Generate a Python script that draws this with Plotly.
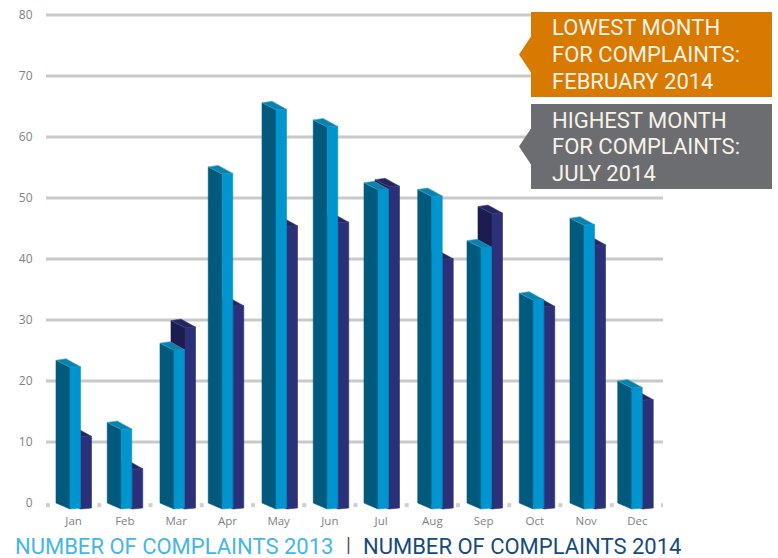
import plotly.graph_objects as go

months = ["Jan", "Feb", "Mar", "Apr", "May", "Jun", "Jul", "Aug", "Sep", "Oct", "Nov", "Dec"]
complaints_2013 = [23.4, 13.2, 26.2, 55.1, 65.6, 62.8, 52.5, 51.4, 43.0, 34.4, 46.7, 20.0]
complaints_2014 = [12.0, 6.7, 29.9, 33.4, 46.5, 47.1, 53.0, 41.1, 48.6, 33.3, 43.4, 18.0]
y_ticks = [0, 10, 20, 30, 40, 50, 60, 70, 80]

W, H = 778, 558
L, R, T, B = 46, 663, 10, 512
Y0_PX = 503
PX_PER_UNIT = 6.1
CAT_PX = 51.25
FIRST_BOUND_PX = 48

# layout: pixel nudge of each month's bar group from its category boundary
group_nudge_px = [8, 8, 9.5, 6.5, 9, 9, 8.5, 11, 9, 10, 9.5, 6]

x_range = [(L - FIRST_BOUND_PX) / CAT_PX, (R - FIRST_BOUND_PX) / CAT_PX]
y_range = [(Y0_PX - B) / PX_PER_UNIT, (Y0_PX - T) / PX_PER_UNIT]


def dx(px):
    return px / CAT_PX


def dy(px):
    return px / PX_PER_UNIT


def faces(values, shift_px):
    side_x, side_y, top_x, top_y, front_x, front_y = [], [], [], [], [], []
    for i, v in enumerate(values):
        x0 = i + dx(group_nudge_px[i] + shift_px)
        a, b, c = x0 + dx(14), x0 + dx(24.5), x0 + dx(10)
        side_x += [x0, a, a, x0, x0, None]
        side_y += [0, -dy(6), v - dy(7), v, 0, None]
        top_x += [x0, c, b, a, x0, None]
        top_y += [v, v + dy(1.5), v - dy(6.5), v - dy(7), v, None]
        front_x += [a, b, b, a, a, None]
        front_y += [-dy(6), -dy(5), v - dy(6.5), v - dy(7), -dy(6), None]
    return (side_x, side_y), (top_x, top_y), (front_x, front_y)


fig = go.Figure()


def add_poly(pts, color, edge=None, name=""):
    fig.add_trace(go.Scatter(
        x=pts[0], y=pts[1], mode="lines", fill="toself", fillcolor=color,
        line=dict(color=edge or color, width=0.6), hoverinfo="skip",
        showlegend=False, name=name,
    ))


s, t, f = faces(complaints_2014, 11)
add_poly(s, "#1b1c50", name="2014 side")
add_poly(t, "#23265f", "#4a4f8c", name="2014 top")
add_poly(f, "#2b3179", name="2014 front")
s, t, f = faces(complaints_2013, 0)
add_poly(s, "#005a7d", name="2013 side")
add_poly(t, "#0a82ad", "#3aa5c8", name="2013 top")
add_poly(f, "#0095cf", name="2013 front")

# small separators along the baseline
fig.add_trace(go.Scatter(
    x=list(range(len(months) + 1)), y=[-0.35] * (len(months) + 1), mode="markers",
    marker=dict(symbol="square", size=4, color="#cfcfcf"),
    hoverinfo="skip", showlegend=False,
))


def px_x(p):
    return (p - L) / (R - L)


def px_y(p):
    return (B - p) / (B - T)


shapes = [
    dict(type="line", xref="paper", yref="y", x0=0, x1=1, y0=v, y1=v,
         line=dict(color="#c9c9c9", width=3), layer="below")
    for v in y_ticks if v != 0
]


def callout(top, bottom, color):
    mid = (top + bottom) / 2
    pts = [(531, top), (772, top), (772, bottom), (531, bottom),
           (531, mid + 18), (519, mid), (531, mid - 18)]
    path = "M " + " L ".join(f"{px_x(a):.5f},{px_y(b):.5f}" for a, b in pts) + " Z"
    return dict(type="path", xref="paper", yref="paper", path=path,
                fillcolor=color, line=dict(width=0), layer="above")


shapes += [callout(12, 97, "#d97a00"), callout(104, 189, "#6c6d70")]

low_lines = ["LOWEST MONTH", "FOR COMPLAINTS:", "FEBRUARY 2014"]
high_lines = ["HIGHEST MONTH", "FOR COMPLAINTS:", "JULY 2014"]
annotations = []
for lines, y_start in ((low_lines, 28), (high_lines, 120)):
    for j, line in enumerate(lines):
        annotations.append(dict(
            text=line, xref="paper", yref="paper", x=px_x(551), y=px_y(y_start + j * 26.7),
            xanchor="left", yanchor="middle", showarrow=False, borderpad=0,
            font=dict(family="Roboto", size=22, color="#f7f2ea"),
        ))

legend_font = "Roboto"
annotations += [
    dict(text="NUMBER OF COMPLAINTS 2013", xref="paper", yref="paper", x=px_x(13), y=px_y(546),
         xanchor="left", yanchor="middle", showarrow=False,
         font=dict(family=legend_font, size=22, color="#45b6e8")),
    dict(text="|", xref="paper", yref="paper", x=px_x(348), y=px_y(545),
         xanchor="center", yanchor="middle", showarrow=False,
         font=dict(family=legend_font, size=20, color="#555555")),
    dict(text="NUMBER OF COMPLAINTS 2014", xref="paper", yref="paper", x=px_x(361), y=px_y(546),
         xanchor="left", yanchor="middle", showarrow=False,
         font=dict(family=legend_font, size=22, color="#174a7c")),
]

fig.update_layout(
    width=W, height=H,
    margin=dict(l=L, r=W - R, t=T, b=H - B, pad=0),
    paper_bgcolor="white", plot_bgcolor="white",
    showlegend=False, shapes=shapes, annotations=annotations,
    xaxis=dict(
        range=x_range, tickmode="array", automargin=False,
        tickvals=[i + 0.5 for i in range(len(months))], ticktext=months,
        showgrid=False, zeroline=False, showline=False,
        ticks="",
        tickfont=dict(family="Open Sans", size=11.5, color="#808285"),
    ),
    yaxis=dict(
        range=y_range, tickmode="array", tickvals=y_ticks, automargin=False,
        showgrid=False, zeroline=False, showline=False,
        ticks="outside", ticklen=10, tickcolor="rgba(0,0,0,0)",
        tickfont=dict(family="Open Sans", size=12, color="#808285"),
    ),
)

fig.write_html("out.html", config={"displayModeBar": False},
               post_script="document.body.style.margin='0';document.body.style.overflow='hidden';")
